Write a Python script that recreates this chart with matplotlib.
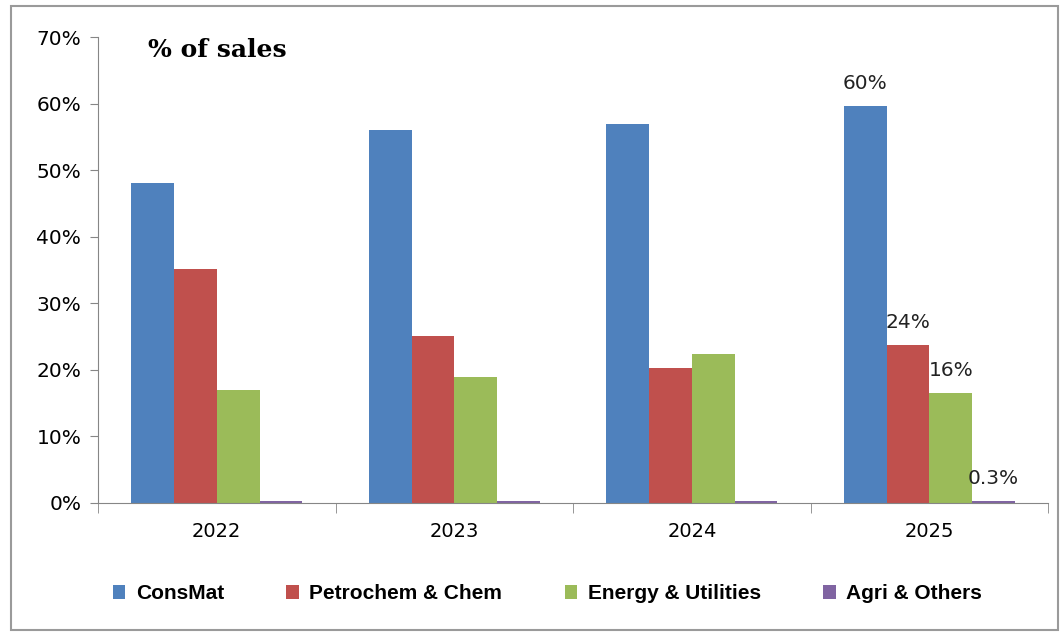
import matplotlib
matplotlib.use("Agg")
import matplotlib.pyplot as plt
import numpy as np
from matplotlib.patches import Rectangle

years = ["2022", "2023", "2024", "2025"]
series_names = ["ConsMat", "Petrochem & Chem", "Energy & Utilities", "Agri & Others"]
consmat = [48.0, 56.1, 57.0, 59.6]
petrochem = [35.1, 25.1, 20.3, 23.7]
energy = [17.0, 18.9, 22.4, 16.5]
agri = [0.3, 0.3, 0.3, 0.3]
labels_2025 = ["60%", "24%", "16%", "0.3%"]

colors = ["#4F81BD", "#C0504D", "#9BBB59", "#8064A2"]
grey = "#868686"

fig = plt.figure(figsize=(10.63, 6.33), dpi=100)
ax = fig.add_axes([0.0922, 0.2054, 0.8938, 0.7361])

x = np.arange(len(years))
width = 0.18
all_series = [consmat, petrochem, energy, agri]
for i, (vals, name, c) in enumerate(zip(all_series, series_names, colors)):
    offs = (i - 1.5) * width
    ax.bar(x + offs, vals, width, color=c, label=name, linewidth=0)
    # data labels for last year only
    ax.text(x[-1] + offs, vals[-1] + 2.0, labels_2025[i], ha="center", va="bottom",
            fontsize=14.5, color="#222222")

ax.set_xlim(-0.5, len(years) - 0.5)
ax.set_ylim(0, 70)
ax.set_yticks(range(0, 71, 10))
ax.set_yticklabels([f"{v}%" for v in range(0, 71, 10)], fontsize=14.5)
ax.set_xticks(x)
ax.set_xticklabels(years, fontsize=14)
ax.tick_params(axis="x", length=0, pad=14)
ax.tick_params(axis="y", length=6, color=grey, pad=6)

# group boundary ticks on x-axis
ax.set_xticks(np.arange(-0.5, len(years)), minor=True)
ax.tick_params(axis="x", which="minor", length=7, color=grey)

for s in ["top", "right"]:
    ax.spines[s].set_visible(False)
for s in ["left", "bottom"]:
    ax.spines[s].set_color(grey)

ax.text(0.053, 0.972, "% of sales", transform=ax.transAxes, fontsize=18,
        fontweight="bold", family="DejaVu Serif", va="center", ha="left")

leg = fig.legend(loc="center", bbox_to_anchor=(0.515, 0.062), ncol=4, frameon=False,
                 prop={"family": "Liberation Sans", "weight": "bold", "size": 15},
                 handlelength=0.6, handleheight=0.6, handletextpad=0.5,
                 columnspacing=3.0)

# outer chart border
fig.patches.append(Rectangle((0.010, 0.005), 0.985, 0.985, transform=fig.transFigure,
                             fill=False, edgecolor="#9a9a9a", linewidth=1.5))

fig.savefig("out.png", dpi=100, facecolor="white")
